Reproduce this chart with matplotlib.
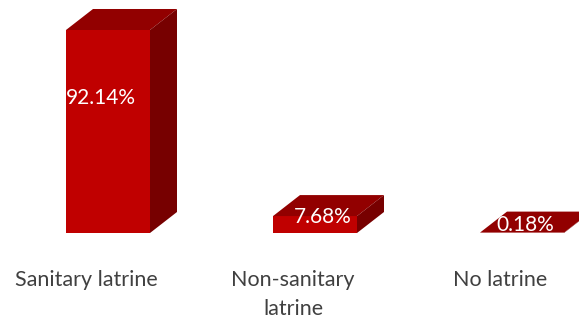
import matplotlib.pyplot as plt
from matplotlib.patches import Polygon

categories = ["Sanitary latrine", "Non-sanitary\nlatrine", "No latrine"]
values = [92.14, 7.68, 0.18]
labels = ["92.14%", "7.68%", "0.18%"]

FRONT = "#c00000"
TOP = "#920000"
SIDE = "#770000"

fig = plt.figure(figsize=(5.79, 3.2), dpi=100)
ax = fig.add_axes([0, 0, 1, 1])
# pixel-ish mapping: bar centres 207 px apart, 2.2 px per percent
ax.set_xlim(-108 / 207, 471 / 207)
ax.set_ylim(-87 / 2.2032, 233 / 2.2032)
ax.axis("off")

half = 42 / 207
dx = 27 / 207
dy = 21 / 2.2032

for i, v in enumerate(values):
    l, r = i - half, i + half
    ax.add_patch(Polygon([(l, 0), (r, 0), (r, v), (l, v)], closed=True,
                         facecolor=FRONT, edgecolor="none", zorder=3))
    ax.add_patch(Polygon([(l, v), (r, v), (r + dx, v + dy), (l + dx, v + dy)],
                         closed=True, facecolor=TOP, edgecolor="none", zorder=3))
    ax.add_patch(Polygon([(r, 0), (r + dx, dy), (r + dx, v + dy), (r, v)],
                         closed=True, facecolor=SIDE, edgecolor="none", zorder=3))

# data labels
label_y = [values[0] * 0.665, values[1] - 0.3, values[2] + 3.4]
label_dx = [-7 / 207, 8 / 207, 3 / 207]
for i, (t, y) in enumerate(zip(labels, label_y)):
    ax.text(i + label_dx[i], y, t, ha="center", va="center", color="white",
            fontsize=15, family="Lato", zorder=5)

# category labels
for i, c in enumerate(categories):
    ax.text(i - 22 / 207, -17.0, c, ha="center", va="top", color="#404040",
            fontsize=15.5, family="Lato", linespacing=1.55)

fig.savefig("out.png", dpi=100)
